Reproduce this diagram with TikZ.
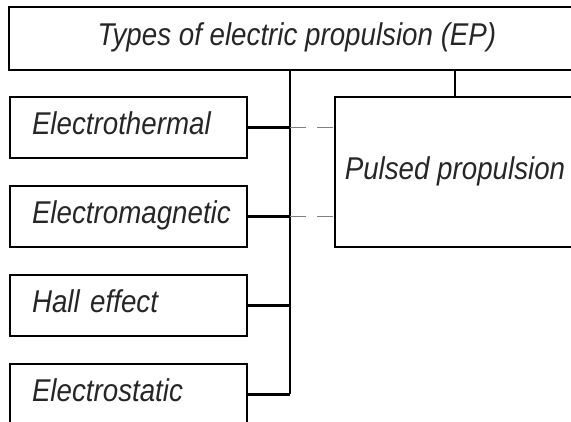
\documentclass[tikz,border=0pt]{standalone}
\usepackage{fontspec}
\newfontfamily\gostfont{Liberation Sans}[FakeStretch=0.88]
\usetikzlibrary{positioning}

\begin{document}
\begin{tikzpicture}[x=1pt,y=1pt,node distance=89pt,line width=2.8pt,
    font=\gostfont\itshape\fontsize{31.5}{36}\selectfont,
    text=black!85,
    type box/.style={rectangle,draw,minimum width=237pt,minimum height=61pt,
      text width=193pt,inner xsep=22pt,align=left,text height=22pt,text depth=7pt},
    link/.style={line width=2.4pt},
    hint/.style={black!50,line width=1.6pt,dash pattern=on 16pt off 11pt}]
  \path[use as bounding box,clip] (0,0) rectangle (571,-422);
  \node[rectangle,draw,minimum width=576pt,minimum height=63pt,text height=22pt,text depth=7pt]
    (ep) at (297,-38.5) {Types of electric propulsion (EP)};
  \node[type box] (thermal) at (128.5,-127.5) {Electrothermal};
  \node[type box] (magnetic) [below of=thermal] {Electromagnetic};
  \node[type box] (hall) [below of=magnetic] {Hall effect};
  \node[type box] (static) [below of=hall] {Electrostatic};
  \node[rectangle,draw,minimum width=240pt,minimum height=150pt,text height=22pt,text depth=7pt]
    (pulsed) at (455,-172) {Pulsed propulsion};
  \coordinate (trunk) at (290,0);
  \path[link]
    (trunk |- ep.south) edge (trunk |- static.east)
    (pulsed.north) edge (pulsed.north |- ep.south)
    (thermal.east) edge (thermal.east -| trunk)
    (magnetic.east) edge (magnetic.east -| trunk)
    (hall.east) edge (hall.east -| trunk)
    (static.east) edge (static.east -| trunk)
    (thermal.east -| trunk) edge [hint] (thermal.east -| pulsed.west)
    (magnetic.east -| trunk) edge [hint] (magnetic.east -| pulsed.west)
    ;
\end{tikzpicture}
\end{document}
